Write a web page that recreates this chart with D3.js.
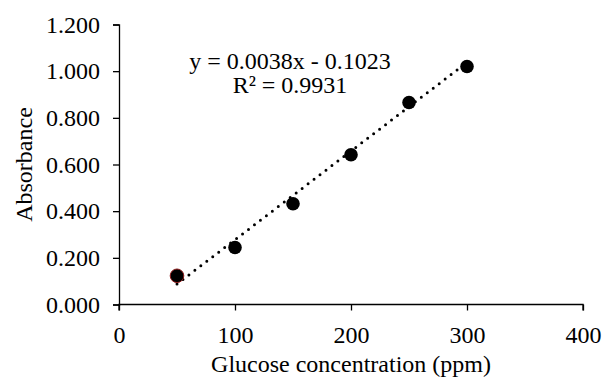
<!DOCTYPE html>
<html>
<head>
<meta charset="utf-8">
<script src="https://cdn.jsdelivr.net/npm/d3@7"></script>
<style>
  body { margin: 0; background: #fff; }
  svg text { font-family: "Liberation Serif", "Times New Roman", serif !important; fill: #000; }
</style>
</head>
<body>
<script>
// glucose standard curve
const concentrations = [50, 100, 150, 200, 250, 300];
const absorbance = [0.123, 0.244, 0.432, 0.642, 0.866, 1.020];
const xTicks = [0, 100, 200, 300, 400];
const yTicks = [0, 0.2, 0.4, 0.6, 0.8, 1.0, 1.2];
const fit = { slope: 0.0038, intercept: -0.1023, r2: 0.9931 };

const W = 603, H = 378;
const FS = 24;
const margin = { top: 24.5, right: 20, bottom: 73.5, left: 119 };
const width = 583 - margin.left;
const height = H - margin.top - margin.bottom;

const svg = d3.select("body").append("svg")
  .attr("width", W)
  .attr("height", H);

const g = svg.append("g")
  .attr("transform", `translate(${margin.left},${margin.top})`);

const x = d3.scaleLinear().domain([0, 400]).range([0, width]);
const y = d3.scaleLinear().domain([0, 1.2]).range([height, 0]);

const xAxis = g.append("g")
  .attr("transform", `translate(0,${height})`)
  .call(d3.axisBottom(x).tickValues(xTicks).tickSize(6).tickPadding(15).tickFormat(d3.format("d")));

const yAxis = g.append("g")
  .call(d3.axisLeft(y).tickValues(yTicks).tickSize(6).tickPadding(13).tickFormat(d3.format(".3f")));

[xAxis, yAxis].forEach(a => {
  a.attr("font-size", null).attr("font-family", null);
  a.selectAll("path, line").attr("stroke", "#000").attr("stroke-width", 1.3);
  a.selectAll("text").style("font-size", FS + "px").style("fill", "#000");
});
xAxis.select(".domain").attr("d", `M0,6V0H${width}V6`);

// trendline
const x0 = d3.min(concentrations), x1 = d3.max(concentrations);
g.append("line")
  .attr("x1", x(x0)).attr("y1", y(fit.slope * x0 + fit.intercept))
  .attr("x2", x(x1)).attr("y2", y(fit.slope * x1 + fit.intercept))
  .attr("stroke", "#000")
  .attr("stroke-width", 3)
  .attr("stroke-linecap", "round")
  .attr("stroke-dasharray", "0 7.5");

// points
g.selectAll("circle.pt")
  .data(concentrations)
  .enter()
  .append("circle")
  .attr("class", "pt")
  .attr("cx", d => x(d))
  .attr("cy", (d, i) => y(absorbance[i]))
  .attr("r", 6.8)
  .attr("fill", "#000")
  .attr("stroke", (d, i) => i === 0 ? "#8b1a1a" : "none")
  .attr("stroke-width", 1);

// equation, two lines
svg.append("text")
  .attr("x", 290)
  .attr("y", 69)
  .attr("text-anchor", "middle")
  .style("font-size", FS + "px")
  .text(`y = ${fit.slope.toFixed(4)}x - ${Math.abs(fit.intercept).toFixed(4)}`);
svg.append("text")
  .attr("x", 290)
  .attr("y", 93)
  .attr("text-anchor", "middle")
  .style("font-size", FS + "px")
  .text(`R² = ${fit.r2.toFixed(4)}`);

// axis titles
svg.append("text")
  .attr("x", margin.left + width / 2)
  .attr("y", 372)
  .attr("text-anchor", "middle")
  .style("font-size", FS + "px")
  .text("Glucose concentration (ppm)");

svg.append("text")
  .attr("transform", `translate(32,${margin.top + height / 2}) rotate(-90)`)
  .attr("text-anchor", "middle")
  .style("font-size", FS + "px")
  .text("Absorbance");
</script>
</body>
</html>
